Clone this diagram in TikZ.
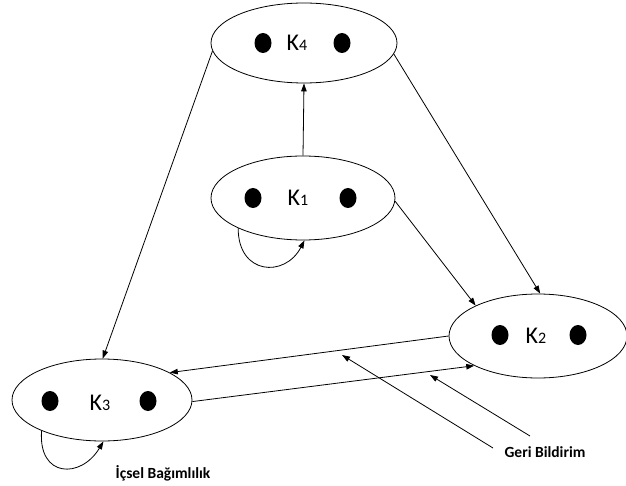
\documentclass[tikz,border=0pt]{standalone}
\usepackage{fontspec}
\setmainfont{Carlito}
\usetikzlibrary{shapes.geometric,arrows.meta}
\tikzset{
  cluster/.style={ellipse,draw,line width=0.8pt,inner sep=0pt},
  blob/.style={ellipse,fill=black,inner sep=0pt,minimum width=17pt,minimum height=20pt},
  klabel/.style={inner sep=0pt},
  conn/.style={line width=0.8pt,-{Triangle[length=8pt,width=5.5pt]}},
  note/.style={inner sep=0pt,font=\fontsize{15.5}{16}\selectfont\bfseries}
}
\newcommand{\klab}[1]{{\fontsize{24}{24}\selectfont K}{\fontsize{16}{16}\selectfont #1}}
\begin{document}
\begin{tikzpicture}[x=1pt,y=-1pt]
\useasboundingbox (0,0) rectangle (626,486);
% clusters
\node[cluster,minimum width=186pt,minimum height=80pt] (K4) at (304,43) {};
\node[cluster,minimum width=184pt,minimum height=84pt] (K1) at (303,198) {};
\node[cluster,minimum width=180pt,minimum height=82pt] (K3) at (102,400) {};
\node[cluster,minimum width=178pt,minimum height=84pt] (K2) at (538,336) {};
% dots
\node[blob] (d4a) at (263,43) {};
\node[blob] (d4b) at (342,43) {};
\node[blob] (d1a) at (253,198) {};
\node[blob] (d1b) at (348,198) {};
\node[blob] (d3a) at (50,401) {};
\node[blob] (d3b) at (148,401) {};
\node[blob] (d2a) at (500,335) {};
\node[blob] (d2b) at (578,335) {};
% labels
\node[klabel] (l4) at (297,43) {\klab{4}};
\node[klabel] (l1) at (298,198) {\klab{1}};
\node[klabel] (l3) at (100,403) {\klab{3}};
\node[klabel] (l2) at (536,336) {\klab{2}};
% connectors
\draw[conn] (K1.90) -- (K4.270);
\draw[conn] (K4.185) -- (K3.89);
\draw[conn] (K4.353) -- (K2.87);
\draw[conn] (K1.358) -- (K2.154);
\draw[conn] (K2.180) -- (K3.22);
\draw[conn] (K3.359) -- (K2.205);
% self loops
\draw[conn] (K1.205) .. controls (238,275) and (285,278) .. (K1.272);
\draw[conn] (K3.207) .. controls (38,478) and (81,479) .. (K3.272);
% feedback
\node[note] (gb) at (545,452) {Geri Bildirim};
\node[note] (ib) at (163,473) {İçsel Bağımlılık};
\coordinate (g1s) at (493,448);
\coordinate (g2s) at (530,436);
\coordinate (g1e) at (342,355);
\coordinate (g2e) at (430,375);
\draw[conn] (g1s) -- (g1e);
\draw[conn] (g2s) -- (g2e);
\end{tikzpicture}
\end{document}
